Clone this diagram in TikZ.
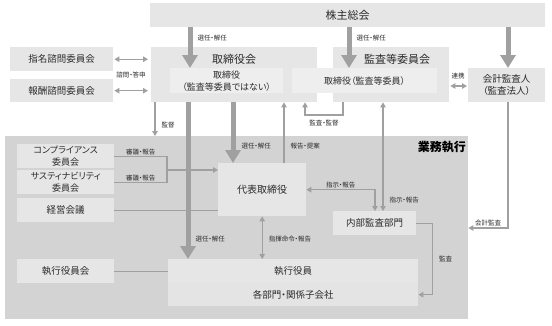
\documentclass[tikz,border=0pt]{standalone}
\usepackage{fontspec}
\setmainfont{Noto Sans CJK JP}[RawFeature=+palt]
\usepackage{xcolor}
\usetikzlibrary{arrows.meta, calc}
\definecolor{ink}{HTML}{2B2B2B}
\definecolor{boxgray}{HTML}{E6E6E6}
\definecolor{innergray}{HTML}{EEEEEE}
\definecolor{lowgray}{HTML}{E4E4E4}
\definecolor{areagray}{HTML}{D3D3D3}
\definecolor{linegray}{HTML}{A0A0A0}

\begin{document}
\begin{tikzpicture}[
  x=1pt, y=-1pt,
  box/.style={fill=boxgray, anchor=north west, inner sep=0pt, align=center, text=ink, font=\fontsize{9.5}{12}\selectfont},
  inner/.style={box, fill=innergray, font=\fontsize{9}{12}\selectfont},
  title/.style={text=ink, inner sep=0pt, font=\fontsize{11}{13}\selectfont},
  lab/.style={text=ink, inner sep=1pt, font=\fontsize{6.5}{7}\selectfont},
  bigarrow/.style={draw=linegray, line width=5pt, -{Triangle[width=15pt, length=13pt]}},
  arrow/.style={draw=linegray, line width=1.2pt, -{Triangle[width=5.5pt, length=5pt]}},
  darrow/.style={arrow, {Triangle[width=5.5pt, length=5pt]}-{Triangle[width=5.5pt, length=5pt]}},
  link/.style={draw=linegray, line width=1.2pt}
]
  \useasboundingbox (0,0) rectangle (552,325);

  % top level
  \node[box, minimum width=395pt, minimum height=24pt, font=\fontsize{11}{13}\selectfont] (soukai) at (150,3) {株主総会};
  \node[box, minimum width=103pt, minimum height=24pt] (shimei) at (10,47) {指名諮問委員会};
  \node[box, minimum width=103pt, minimum height=23pt] (houshu) at (10,79) {報酬諮問委員会};
  \node[box, minimum width=166pt, minimum height=55pt] (torikai) at (151,47) {};
  \node[box, minimum width=116pt, minimum height=55pt] (kansakai) at (333,47) {};
  \node[title] at (234,59) {取締役会};
  \node[title] at (397,59) {監査等委員会};
  \node[inner, minimum width=113pt, minimum height=25pt] (torishimari) at (170,68) {取締役\\（監査等委員ではない）};
  \node[inner, minimum width=145pt, minimum height=25pt] (torikansa) at (292,68) {取締役（監査等委員）};
  \node[box, minimum width=77pt, minimum height=34pt] (kaikei) at (468,68) {会計監査人\\（監査法人）};

  % business execution area
  \node[fill=areagray, anchor=north west, inner sep=0pt, minimum width=463pt, minimum height=183pt] (gyomu) at (5,136) {};
  \node[font=\bfseries\fontsize{12}{14}\selectfont, text=black, anchor=east, inner sep=0pt] at (466,147) {業務執行};

  \node[box, minimum width=97pt, minimum height=24pt, font=\fontsize{9}{12}\selectfont] (comp) at (17,144) {コンプライアンス\\委員会};
  \node[box, minimum width=97pt, minimum height=24pt, font=\fontsize{9}{12}\selectfont] (sust) at (17,170) {サスティナビリティ\\委員会};
  \node[box, minimum width=97pt, minimum height=24pt] (keiei) at (17,198) {経営会議};
  \node[box, minimum width=88pt, minimum height=53pt, font=\fontsize{10}{12}\selectfont] (daihyo) at (218,163) {代表取締役};
  \node[box, minimum width=83pt, minimum height=24pt] (naibu) at (333,211) {内部監査部門};
  \node[box, minimum width=97pt, minimum height=24pt] (shikkokai) at (17,259) {執行役員会};
  \node[box, minimum width=250pt, minimum height=24pt] (shikko) at (168,259) {執行役員};
  \node[box, fill=lowgray, minimum width=250pt, minimum height=23pt] (buka) at (168,283) {各部門・関係子会社};
  \coordinate (merge) at (167,170);

  % advisory committees
  \draw[darrow, shorten <=1pt, shorten >=3pt] (shimei.east) -- (shimei.east -| torikai.west);
  \draw[darrow, shorten <=1pt, shorten >=3pt] (houshu.east) -- (houshu.east -| torikai.west);
  \node[lab] at (131,75) {諮問・答申};
  \draw[darrow, shorten <=1pt, shorten >=1pt] (kansakai.east |- 0,86) -- (kaikei.west |- 0,86);
  \node[lab] at (458,76) {連携};

  % thin connectors
  \draw[arrow] (torikai.south -| 155,0) -- (gyomu.north -| 155,0) node[lab, pos=0.68, anchor=west, xshift=5pt] {監督};
  \draw[arrow] (kansakai.south -| 343,0) -- (343,115) -- node[lab, below=3pt] {監査・監督} (305,115) -- (torikai.south -| 305,0);
  \draw[arrow] (daihyo.north -| 284,0) -- (torikai.south -| 284,0) node[lab, pos=0.28, anchor=west, xshift=5pt] {報告・提案};
  \draw[darrow] (kansakai.south -| 383,0) -- (naibu.north -| 383,0) node[lab, pos=0.9, anchor=west, xshift=5pt] {指示・報告};
  \draw[darrow] (daihyo.east) -| (naibu.north -| 375,0) node[lab, pos=0.25, above] {指示・報告};
  \draw[arrow] (kaikei.south -| 508,0) |- (gyomu.east |- 0,228) node[lab, pos=0.75, above] {会計監査};
  \draw[arrow] (naibu.east) -- ++(16,0) |- node[lab, pos=0.25, right=5pt] {監査} (buka.east);
  \draw[darrow] (daihyo.south) -- (daihyo.south |- shikko.north) node[lab, pos=0.53, anchor=west, xshift=5pt] {指揮命令・報告};

  \draw[link] (comp.east) -- node[lab, above] {審議・報告} (comp.east -| merge) -- (sust.east -| merge) -- node[lab, above] {審議・報告} (sust.east);
  \draw[arrow] (merge) -- (merge -| daihyo.west);
  \draw[link] (keiei.east) -- (keiei.east -| daihyo.west);
  \draw[link] (shikkokai.east) -- (shikko.west);

  % appointment / dismissal
  \draw[bigarrow] (soukai.south -| 190,0) -- (torishimari.north -| 190,0) node[lab, pos=0.27, anchor=west, xshift=4pt] {選任・解任};
  \draw[bigarrow] (soukai.south -| 349,0) -- (torikansa.north -| 349,0) node[lab, pos=0.27, anchor=west, xshift=4pt] {選任・解任};
  \draw[bigarrow] (soukai.south -| 508,0) -- (kaikei.north -| 508,0);
  \draw[bigarrow] (torikai.south -| 188,0) -- (shikko.north -| 188,0) node[lab, pos=0.87, anchor=west, xshift=4pt] {選任・解任};
  \draw[bigarrow] (torikai.south -| 233,0) -- (daihyo.north -| 233,0) node[lab, pos=0.72, anchor=west, xshift=5pt] {選任・解任};
\end{tikzpicture}
\end{document}
